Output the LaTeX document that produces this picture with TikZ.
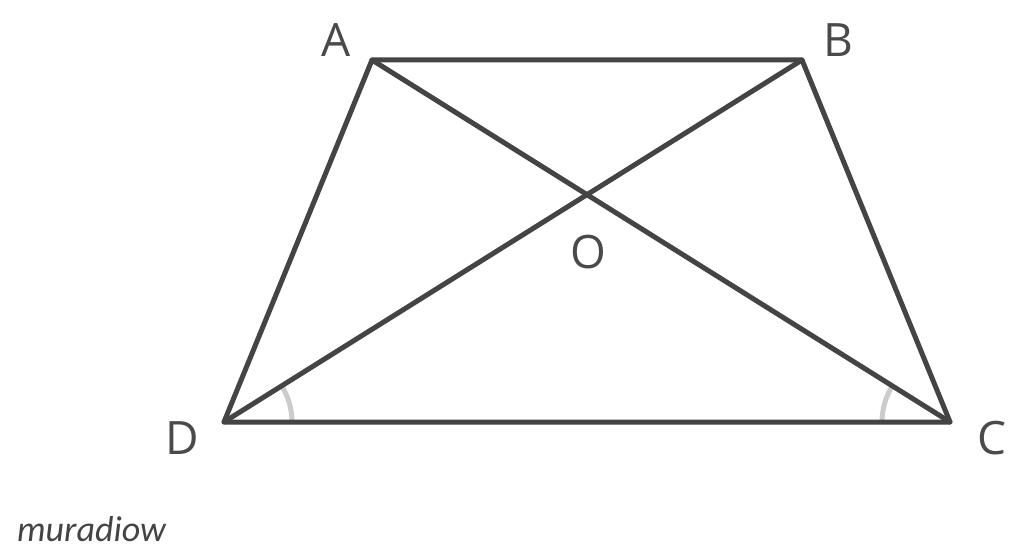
\documentclass[tikz,border=0pt]{standalone}
\usepackage{fontspec}
\setmainfont{Open Sans}
\newfontfamily\signfont{Carlito}
\usetikzlibrary{calc,intersections}
\definecolor{edge}{HTML}{444444}
\definecolor{arcgray}{HTML}{CCCCCC}
\definecolor{labelgray}{HTML}{4A4A4A}
\begin{document}
\begin{tikzpicture}[x=1pt,y=-1pt,
  seg/.style={draw=edge,line width=5pt,line cap=round,line join=round},
  anglemark/.style={draw=arcgray,line width=5pt},
  vlabel/.style={text=labelgray,font=\fontsize{46}{46}\selectfont,inner sep=0pt},
  sign/.style={text=edge,font=\signfont\itshape\fontsize{36}{36}\selectfont,inner sep=0pt,anchor=base west}]
\useasboundingbox[fill=white] (0,0) rectangle (1024,553);
\coordinate (A) at (372,60);
\coordinate (B) at (802,60);
\coordinate (C) at (950,422);
\coordinate (D) at (224,422);
\draw[anglemark] ($(D)+(68,0)$) arc[start angle=0,end angle=-31,radius=68];
\draw[anglemark] ($(C)+(-68,0)$) arc[start angle=180,end angle=211,radius=68];
\draw[seg] (A) -- (B) -- (C) -- (D) -- cycle;
\draw[seg] (A) -- (C);
\draw[seg] (B) -- (D);
\node[vlabel] (lA) at (336,40) {A};
\node[vlabel] (lB) at (838,40) {B};
\node[vlabel] (lO) at (588,252) {O};
\node[vlabel] (lD) at (182,438) {D};
\node[vlabel] (lC) at (992,438) {C};
\node[sign] (sig) at (17,541) {muradiow};
\end{tikzpicture}
\end{document}
